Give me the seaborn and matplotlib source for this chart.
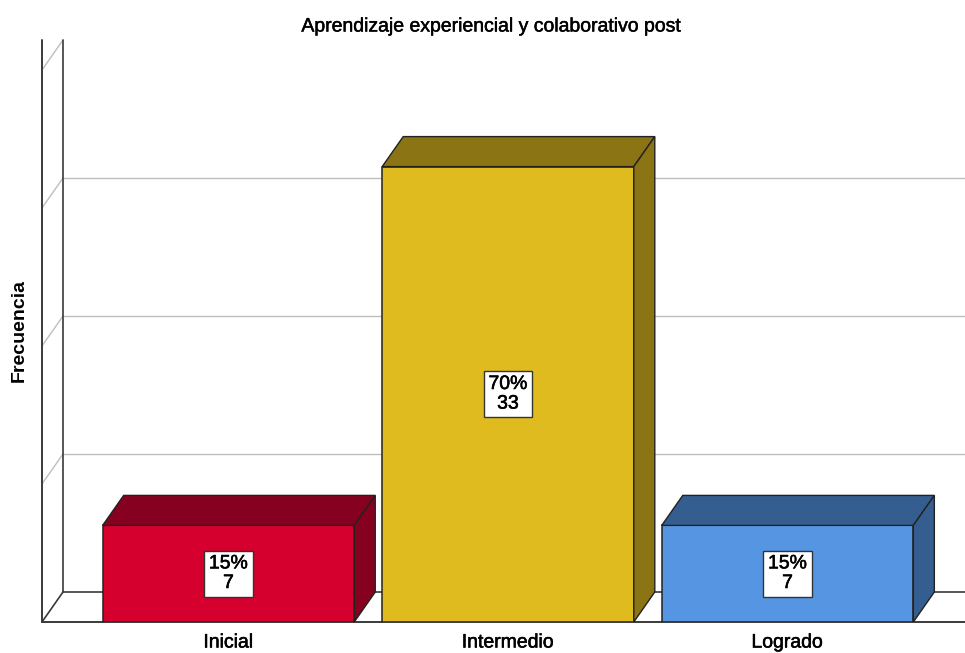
import matplotlib
matplotlib.use("Agg")
import matplotlib.pyplot as plt
from matplotlib.patches import Polygon
import matplotlib.patheffects as pe
import seaborn as sns
import pandas as pd

# Data
categories = ["Inicial", "Intermedio", "Logrado"]
counts = [7, 33, 7]
percents = ["15%", "70%", "15%"]
front_colors = ["#D6002E", "#E0BB20", "#5595E2"]
shade_colors = ["#86001F", "#8B7413", "#355E90"]
grid_values = [10, 20, 30]

sns.set_theme(style="white")
plt.rcParams["font.family"] = ["Liberation Sans", "DejaVu Sans"]

W, H, DPI = 965, 653, 100
fig = plt.figure(figsize=(W / DPI, H / DPI), dpi=DPI)

# Front plane of the pseudo-3D box (pixel layout)
left_px, right_px, base_px, top_px = 42, 974, 622, 70
ax = fig.add_axes([left_px / W, (H - base_px) / H,
                   (right_px - left_px) / W, (base_px - top_px) / H])
xmin, xmax, ymin, ymax = -0.667, 2.667, 0, 40
ax.set_xlim(xmin, xmax)
ax.set_ylim(ymin, ymax)

# Depth offset expressed in data units
depth_x_px, depth_y_px = 21, 30
DX = depth_x_px * (xmax - xmin) / (right_px - left_px)
DY = depth_y_px * (ymax - ymin) / (base_px - top_px)

df = pd.DataFrame({"categoria": categories, "frecuencia": counts})
sns.barplot(data=df, x="categoria", y="frecuencia", hue="categoria",
            palette=front_colors, saturation=1, width=0.9,
            edgecolor="#222222", linewidth=1.1, legend=False, ax=ax, zorder=3)
ax.set_xlim(xmin, xmax)
ax.set_ylim(ymin, ymax)

grid_c = "#BEBEBE"
wall_c = "#3A3A3A"
x_far = xmax + 1.0

# Back wall gridlines and left-wall diagonals
for v in grid_values:
    ax.plot([xmin + DX, x_far], [v + DY, v + DY], color=grid_c, lw=1.0,
            zorder=1, clip_on=False)
    ax.plot([xmin, xmin + DX], [v, v + DY], color=grid_c, lw=1.0,
            zorder=1, clip_on=False)
ax.plot([xmin, xmin + DX], [ymax, ymax + DY], color=grid_c,
        lw=1.0, zorder=1, clip_on=False)

# Floor and left wall frame
ax.plot([xmin + DX, x_far], [DY, DY], color=wall_c, lw=1.2, zorder=1, clip_on=False)
ax.plot([xmin, x_far], [0, 0], color=wall_c, lw=1.4, zorder=2, clip_on=False)
ax.plot([xmin, xmin + DX], [0, DY], color=wall_c, lw=1.2, zorder=1, clip_on=False)
ax.plot([xmin, xmin], [0, ymax + DY], color=wall_c, lw=1.4, zorder=1, clip_on=False)
ax.plot([xmin + DX, xmin + DX], [DY, ymax + DY], color=wall_c, lw=1.2,
        zorder=1, clip_on=False)

# Top and side faces of each bar
for patch, shade in zip(ax.patches, shade_colors):
    x0 = patch.get_x()
    w = patch.get_width()
    h = patch.get_height()
    x1 = x0 + w
    top = Polygon([(x0, h), (x0 + DX, h + DY), (x1 + DX, h + DY), (x1, h)],
                  closed=True, facecolor=shade, edgecolor="#222222",
                  lw=1.0, zorder=3, clip_on=False)
    side = Polygon([(x1, 0), (x1, h), (x1 + DX, h + DY), (x1 + DX, DY)],
                   closed=True, facecolor=shade, edgecolor="#222222",
                   lw=1.0, zorder=3, clip_on=False)
    ax.add_patch(top)
    ax.add_patch(side)

heavy = [pe.withStroke(linewidth=0.4, foreground="black")]

# Value labels in the middle of each front face
for i, (c, p) in enumerate(zip(counts, percents)):
    ax.text(i, c / 2, f"{p}\n{c}", ha="center", va="center", fontsize=14,
            linespacing=1.2, color="black", zorder=5, path_effects=heavy,
            bbox=dict(boxstyle="square,pad=0.25", facecolor="white",
                      edgecolor="#333333", lw=1.0))

for s in ax.spines.values():
    s.set_visible(False)
ax.set_yticks([])
ax.set_xlabel("")
ax.tick_params(axis="x", length=0, pad=9, labelsize=14, colors="black")
ax.set_xticks(range(len(categories)))
ax.set_xticklabels(categories)
for t in ax.get_xticklabels():
    t.set_path_effects(heavy)
ax.set_ylabel("Frecuencia", fontsize=14, fontweight="bold", color="black")
ax.yaxis.set_label_coords((28 - left_px) / (right_px - left_px),
                          (base_px - 330) / (base_px - top_px))
ax.patch.set_alpha(0)

fig.text(492.5 / W, 1 - 27 / H, "Aprendizaje experiencial y colaborativo post",
         ha="center", va="center", fontsize=14, color="black",
         path_effects=[pe.withStroke(linewidth=0.35, foreground="black")])

fig.savefig("out.png", dpi=DPI, facecolor="white")
